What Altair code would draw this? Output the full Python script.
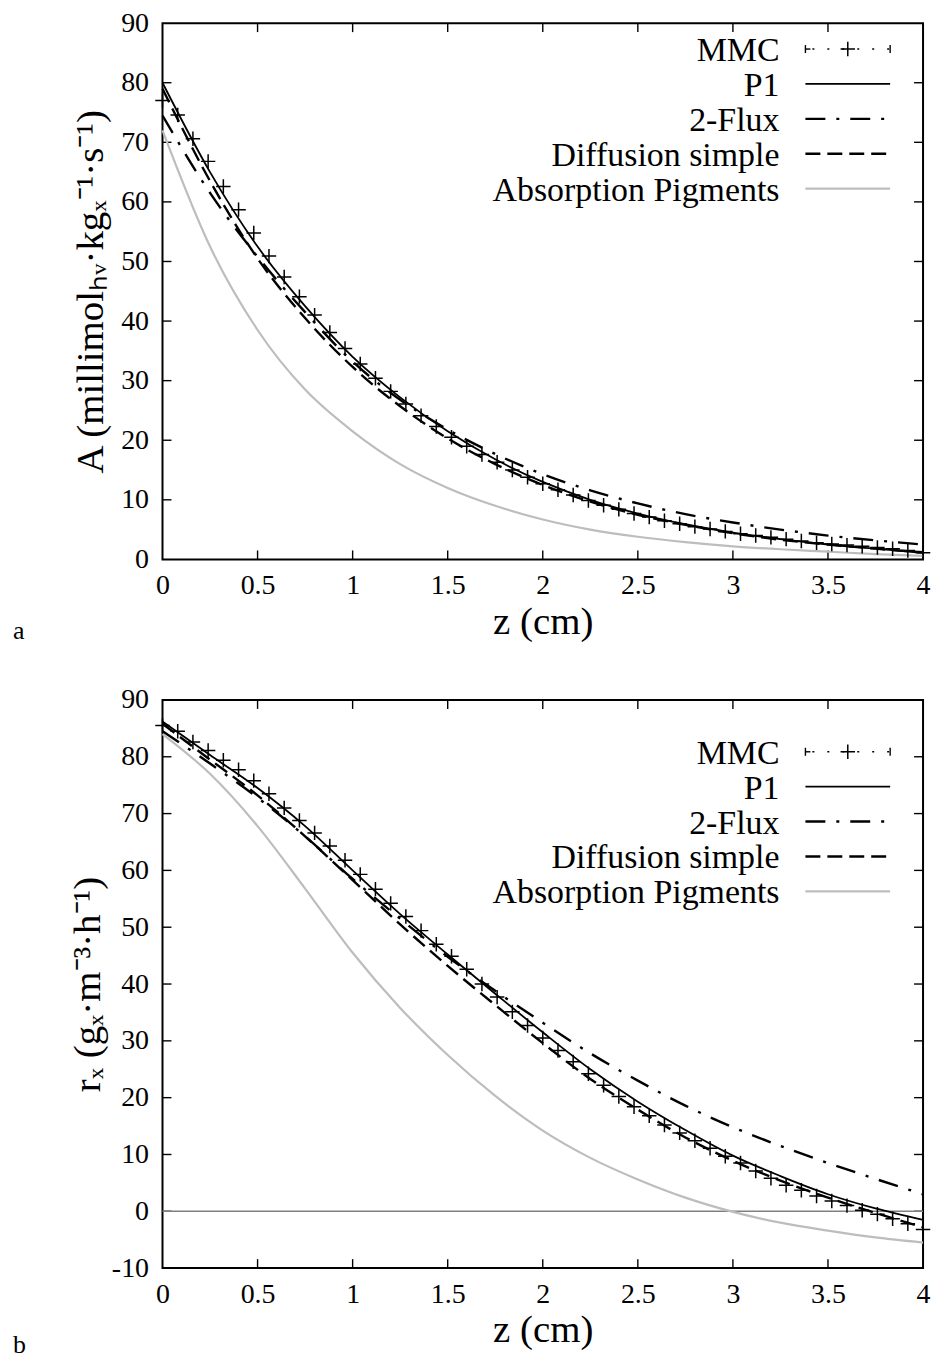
import altair as alt
import pandas as pd

FONT = "Liberation Serif"

# ---------------- data ----------------
z_line = [0.0, 0.25, 0.5, 0.75, 1.0, 1.25, 1.5, 1.75, 2.0, 2.25, 2.5, 2.75,
          3.0, 3.25, 3.5, 3.75, 4.0]

# panel a : A (millimol_hv . kg_x^-1 . s^-1)
a_p1 = [80.0, 65.0, 52.5, 42.5, 34.0, 27.2, 21.5, 16.8, 13.0, 10.0, 7.7, 5.9,
        4.5, 3.4, 2.5, 1.8, 1.1]
a_flux = [74.5, 61.5, 50.8, 41.5, 33.2, 26.8, 21.8, 17.7, 14.3, 11.6, 9.4, 7.6,
          6.2, 5.0, 4.0, 3.2, 2.5]
a_diff = [79.0, 63.5, 50.5, 40.5, 32.3, 25.7, 20.3, 16.0, 12.5, 9.7, 7.5, 5.8,
          4.4, 3.3, 2.5, 1.8, 1.2]
a_abs = [72.0, 52.5, 38.5, 28.5, 21.5, 16.0, 12.0, 9.0, 6.7, 5.0, 3.8, 2.9,
         2.2, 1.7, 1.3, 0.9, 0.6]

z_mmc = [0.0, 0.08, 0.16, 0.24, 0.32, 0.40, 0.48, 0.56, 0.64, 0.72, 0.80, 0.88,
         0.96, 1.04, 1.12, 1.20, 1.28, 1.36, 1.44, 1.52, 1.60, 1.68, 1.76, 1.84,
         1.92, 2.00, 2.08, 2.16, 2.24, 2.32, 2.40, 2.48, 2.56, 2.64, 2.72, 2.80,
         2.88, 2.96, 3.04, 3.12, 3.20, 3.28, 3.36, 3.44, 3.52, 3.60, 3.68, 3.76,
         3.84, 3.92, 4.00]
a_mmc = [77.0, 74.6, 70.6, 66.8, 62.6, 58.7, 54.8, 50.9, 47.4, 44.1, 41.0, 38.1,
         35.4, 32.8, 30.4, 28.2, 26.1, 24.1, 22.3, 20.5, 19.0, 17.6, 16.3, 15.0,
         13.8, 12.7, 11.7, 10.8, 9.9, 9.1, 8.4, 7.7, 7.1, 6.5, 6.0, 5.5,
         5.1, 4.7, 4.3, 4.0, 3.7, 3.4, 3.1, 2.8, 2.6, 2.4, 2.2, 2.0,
         1.8, 1.5, 1.1]

# panel b : r_x (g_x . m^-3 . h^-1)
b_p1 = [86.2, 80.3, 74.5, 67.8, 60.0, 52.3, 45.2, 38.3, 31.5, 25.0, 19.3, 14.3,
        9.8, 6.2, 3.0, 0.5, -1.5]
b_flux = [84.5, 78.8, 72.8, 66.0, 58.5, 51.5, 44.8, 38.8, 33.2, 27.8, 23.0, 18.6,
          14.8, 11.5, 8.5, 5.7, 3.0]
b_diff = [85.8, 79.5, 73.2, 66.0, 58.3, 50.5, 43.2, 36.3, 29.6, 23.3, 17.9, 13.0,
          8.9, 5.4, 2.4, -0.3, -2.8]
b_abs = [84.0, 77.0, 67.8, 56.8, 45.5, 35.8, 27.5, 20.3, 14.2, 9.4, 5.6, 2.4,
         -0.1, -2.0, -3.4, -4.6, -5.5]
b_mmc = [85.5, 84.5, 82.6, 81.1, 79.4, 77.7, 75.8, 73.5, 71.0, 68.8, 66.6, 64.3,
         61.8, 59.3, 56.7, 54.2, 51.9, 49.4, 47.0, 44.9, 42.6, 40.0, 37.7, 35.1,
         32.7, 30.5, 28.3, 26.3, 24.2, 22.2, 20.2, 18.4, 16.8, 15.2, 13.8, 12.4,
         11.1, 9.7, 8.5, 7.1, 5.8, 4.6, 3.7, 2.7, 1.8, 1.0, 0.2, -0.5,
         -1.3, -2.2, -3.2]

series_names = ["MMC", "P1", "2-Flux", "Diffusion simple", "Absorption Pigments"]
x_ticks = [0, 0.5, 1, 1.5, 2, 2.5, 3, 3.5, 4]
a_yticks = [0, 10, 20, 30, 40, 50, 60, 70, 80, 90]
b_yticks = [-10, 0, 10, 20, 30, 40, 50, 60, 70, 80, 90]

W = 763
PLUS = "M-1,0L1,0M0,-1L0,1"

STYLES = {
    "Absorption Pigments": dict(color="#bdbdbd", strokeWidth=2.2),
    "Diffusion simple": dict(color="black", strokeWidth=2.4, strokeDash=[15, 7]),
    "2-Flux": dict(color="black", strokeWidth=2.4, strokeDash=[20, 11, 3, 11]),
    "P1": dict(color="black", strokeWidth=1.8),
}


def panel(p1, flux, diff, absb, mmc, ymin, ymax, yticks, h, ytitle,
          leg_y0, letter, letter_dy, zero_line, ytp):
    xs = alt.Scale(domain=[0, 4], nice=False, zero=False)
    ys = alt.Scale(domain=[ymin, ymax], nice=False, zero=False)
    xaxis = alt.Axis(values=x_ticks, format="~g", ticks=False, domain=False,
                     grid=False, labelPadding=12, title="z (cm)",
                     titlePadding=3, labelFlush=False)
    yaxis = alt.Axis(values=yticks, ticks=False, domain=False, grid=False,
                     labelPadding=14, title=ytitle, titlePadding=ytp,
                     labelExpr="datum.value < 0 ? '-' + abs(datum.value) : datum.label")
    X = lambda f: alt.X(f, scale=xs, axis=xaxis)
    Y = lambda f: alt.Y(f, scale=ys, axis=yaxis)

    rows = []
    for name, vals in [("P1", p1), ("2-Flux", flux), ("Diffusion simple", diff),
                       ("Absorption Pigments", absb)]:
        for zz, vv in zip(z_line, vals):
            rows.append({"z": zz, "v": vv, "s": name})
    df = pd.DataFrame(rows)
    mdf = pd.DataFrame({"z": z_mmc, "v": mmc})

    layers = []
    # ticks inside the frame (mirrored on all sides)
    xt = pd.DataFrame({"t": x_ticks[1:-1]})
    yt = pd.DataFrame({"t": yticks[1:-1]})
    tk = dict(color="black", strokeWidth=1.4)
    layers.append(alt.Chart(xt).mark_rule(**tk).encode(
        x=X("t:Q"), y=alt.value(h), y2=alt.value(h - 9)))
    layers.append(alt.Chart(xt).mark_rule(**tk).encode(
        x=X("t:Q"), y=alt.value(0), y2=alt.value(9)))
    layers.append(alt.Chart(yt).mark_rule(**tk).encode(
        y=Y("t:Q"), x=alt.value(0), x2=alt.value(9)))
    layers.append(alt.Chart(yt).mark_rule(**tk).encode(
        y=Y("t:Q"), x=alt.value(W), x2=alt.value(W - 9)))

    if zero_line:
        layers.append(alt.Chart(pd.DataFrame({"t": [0]})).mark_rule(
            color="#808080", strokeWidth=1.5).encode(
            y=Y("t:Q"), x=alt.value(0), x2=alt.value(W)))

    for name in ["Absorption Pigments", "Diffusion simple", "2-Flux", "P1"]:
        layers.append(alt.Chart(df).transform_filter(
            alt.datum.s == name).mark_line(
            interpolate="monotone", **STYLES[name]).encode(
            x=X("z:Q"), y=Y("v:Q")))

    layers.append(alt.Chart(mdf).mark_point(
        shape=PLUS, size=210, filled=False, color="black",
        strokeWidth=1.5, opacity=1).encode(x=X("z:Q"), y=Y("v:Q")))

    # legend (drawn by hand, gnuplot style: label right-aligned, sample to the right)
    one = pd.DataFrame({"k": [0]})
    lx_text, lx0, lx1 = 619, 645, 730
    for i, name in enumerate(series_names):
        yy = leg_y0 + 35 * i
        layers.append(alt.Chart(one).mark_text(
            text=name, align="right", baseline="middle", font=FONT,
            fontSize=34, color="black").encode(
            x=alt.value(lx_text), y=alt.value(yy + 2)))
        if name == "MMC":
            layers.append(alt.Chart(one).mark_rule(
                color="black", strokeWidth=1.4, strokeDash=[2, 13]).encode(
                x=alt.value(lx0 + 7), x2=alt.value(lx1), y=alt.value(yy)))
            layers.append(alt.Chart(one).mark_rule(
                color="black", strokeWidth=1.4).encode(
                x=alt.value(lx0), x2=alt.value(lx0 + 5), y=alt.value(yy)))
            for ex in (lx0, lx1):
                layers.append(alt.Chart(one).mark_rule(
                    color="black", strokeWidth=1.4).encode(
                    x=alt.value(ex), y=alt.value(yy - 4), y2=alt.value(yy + 4)))
            layers.append(alt.Chart(one).mark_point(
                shape=PLUS, size=210, filled=False, color="black",
                strokeWidth=1.5, opacity=1).encode(
                x=alt.value((lx0 + lx1) / 2), y=alt.value(yy)))
        else:
            layers.append(alt.Chart(one).mark_rule(**STYLES[name]).encode(
                x=alt.value(lx0), x2=alt.value(lx1), y=alt.value(yy)))

    layers.append(alt.Chart(one).mark_text(
        text=letter, align="left", baseline="middle", font=FONT,
        fontSize=26, color="black").encode(
        x=alt.value(-150), y=alt.value(h + letter_dy)))

    return alt.layer(*layers).properties(width=W, height=h)


pa = panel(a_p1, a_flux, a_diff, a_abs, a_mmc, 0, 90, a_yticks, 538,
           "A (millimolₕᵥ·kgₓ⁻¹·s⁻¹)", 26, "a", 72, False, 10)
pb = panel(b_p1, b_flux, b_diff, b_abs, b_mmc, -10, 90, b_yticks, 570,
           "rₓ (gₓ·m⁻³·h⁻¹)", 52, "b", 77, True, 4)

chart = alt.vconcat(pa, pb, spacing=40).properties(
    padding={"left": 4, "top": -2, "right": 0, "bottom": 0}
).configure_view(
    stroke="black", strokeWidth=2
).configure_axis(
    labelFont=FONT, titleFont=FONT, labelFontSize=28, titleFontSize=39,
    titleFontWeight="normal", labelColor="black", titleColor="black"
)

chart.save("out.html", embed_options={"renderer": "svg", "actions": False})
